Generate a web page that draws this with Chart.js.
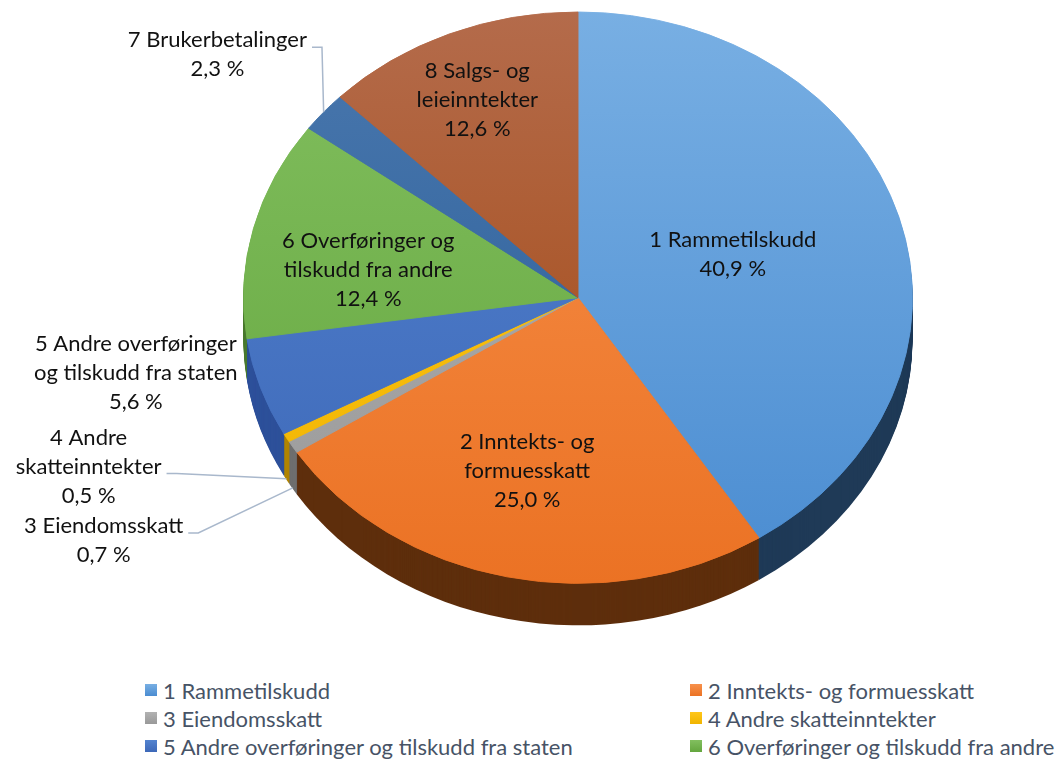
<!DOCTYPE html>
<html lang="no">
<head>
<meta charset="utf-8">
<title>Inntekter</title>
<script src="https://cdn.jsdelivr.net/npm/chart.js@4.4.1/dist/chart.umd.min.js"></script>
<style>
  html, body { margin: 0; padding: 0; background: #fff; overflow: hidden; }
  #wrap { position: relative; width: 1059px; height: 760px; }
  #pie { position: absolute; left: 0; top: 0; }
  #legend {
    position: absolute; left: 145px; top: 676px;
    display: grid; grid-template-columns: 545px 380px;
    font: 22px Lato, sans-serif; color: #475366;
  }
  .item { height: 28px; display: flex; align-items: center; white-space: nowrap; }
  .box { width: 12px; height: 12px; margin-right: 6px; flex: none; }
</style>
</head>
<body>
<div id="wrap">
  <canvas id="pie" width="1059" height="670"></canvas>
  <div id="legend"></div>
</div>
<script>
// data
const kategorier = [
  '1 Rammetilskudd',
  '2 Inntekts- og formuesskatt',
  '3 Eiendomsskatt',
  '4 Andre skatteinntekter',
  '5 Andre overføringer og tilskudd fra staten',
  '6 Overføringer og tilskudd fra andre',
  '7 Brukerbetalinger',
  '8 Salgs- og leieinntekter'
];
const andeler = [40.9, 25.0, 0.7, 0.5, 5.6, 12.4, 2.3, 12.6];

// hvordan etikettene brytes i figuren
const etikettLinjer = [
  ['1 Rammetilskudd'],
  ['2 Inntekts- og', 'formuesskatt'],
  ['3 Eiendomsskatt'],
  ['4 Andre', 'skatteinntekter'],
  ['5 Andre overføringer', 'og tilskudd fra staten'],
  ['6 Overføringer og', 'tilskudd fra andre'],
  ['7 Brukerbetalinger'],
  ['8 Salgs- og', 'leieinntekter']
];

// stil
const fargeLys = ['#78AFE3', '#F7914C', '#B2B2B2', '#FFC61A', '#5383CF', '#82BF5F', '#4A78AE', '#B46B4B'];
const fargeMork = ['#4A8CD1', '#EB7224', '#999999', '#F0B400', '#3D68B8', '#64A63E', '#275B96', '#A2460E'];
const fargeSide = ['#1F3A57', '#5E2E0C', '#6E6E6E', '#B08400', '#2D509A', '#4A7A30', '#1A3F66', '#6E3109'];
// etikettens midtpunkt, relativt til sentrum i enheter av radiene
const etikettPlass = [
  [0.463, -0.150], [-0.152, 0.608], [-1.418, 0.850], [-1.463, 0.591],
  [-1.322, 0.262], [-0.627, -0.098], [-1.078, -0.850], [-0.301, -0.692]
];
const ledeRad = [-1, -1, 0, 1, -1, -1, 0, -1]; // hvilken linje ledestreken går fra

const TILT = 0.854;
const DYBDE = 42;
const TOPP = 12;
const LINJE = 29;

const fmt = v => v.toFixed(1).replace('.', ',') + ' %';

function visSentrum(arc) {
  return TOPP + arc.outerRadius * TILT;
}

function settTransform(ctx, arc, dy) {
  ctx.translate(arc.x, visSentrum(arc) + dy);
  ctx.scale(1, TILT);
  ctx.translate(-arc.x, -arc.y);
}

function gradient(lys, mork) {
  return (c) => {
    const area = c.chart.chartArea;
    if (!area) return mork;
    const g = c.chart.ctx.createLinearGradient(0, area.top, 0, area.bottom);
    g.addColorStop(0, lys);
    g.addColorStop(1, mork);
    return g;
  };
}

function tegnEtiketter(chart) {
  const ctx = chart.ctx;
  const arcs = chart.getDatasetMeta(0).data;
  const rx = arcs[0].outerRadius, ry = rx * TILT;
  const cx = arcs[0].x, cy = visSentrum(arcs[0]);

  ctx.save();
  ctx.font = '22px Lato, sans-serif';
  ctx.textAlign = 'center';
  ctx.textBaseline = 'middle';
  arcs.forEach((arc, i) => {
    const linjer = [...etikettLinjer[i], fmt(andeler[i])];
    const lx = cx + etikettPlass[i][0] * rx;
    const ly = cy + etikettPlass[i][1] * ry;
    const y0 = ly - (linjer.length - 1) * LINJE / 2;

    if (ledeRad[i] >= 0) {
      const rad = ledeRad[i];
      const w = ctx.measureText(linjer[rad]).width;
      const sx = lx + w / 2 + 5, sy = y0 + rad * LINJE + 7;
      const mid = (arc.startAngle + arc.endAngle) / 2;
      const ex = cx + rx * Math.cos(mid);
      let ey = cy + ry * Math.sin(mid);
      if (Math.sin(mid) > 0) ey += DYBDE - 1;
      ctx.strokeStyle = '#A9B8CC';
      ctx.lineWidth = 1.5;
      ctx.beginPath();
      ctx.moveTo(sx, sy);
      ctx.lineTo(sx + 10, sy);
      ctx.lineTo(ex, ey);
      ctx.stroke();
    }

    ctx.fillStyle = '#111';
    linjer.forEach((t, j) => ctx.fillText(t, lx, y0 + j * LINJE));
  });
  ctx.restore();
}

const pie3d = {
  id: 'pie3d',
  beforeDatasetsDraw(chart) {
    const ctx = chart.ctx;
    const arcs = chart.getDatasetMeta(0).data;
    // sideveggen: skivene stablet nedover
    for (let d = DYBDE; d >= 1; d--) {
      ctx.save();
      settTransform(ctx, arcs[0], d);
      arcs.forEach((arc, i) => {
        ctx.beginPath();
        ctx.moveTo(arc.x, arc.y);
        ctx.arc(arc.x, arc.y, arc.outerRadius, arc.startAngle, arc.endAngle);
        ctx.closePath();
        ctx.fillStyle = fargeSide[i];
        ctx.fill();
      });
      ctx.restore();
    }
    ctx.save();
    settTransform(ctx, arcs[0], 0);
  },
  afterDatasetsDraw(chart) {
    chart.ctx.restore();
    tegnEtiketter(chart);
  }
};

const bg = fargeLys.map((c, i) => gradient(c, fargeMork[i]));

const chart = new Chart(document.getElementById('pie'), {
  type: 'pie',
  data: {
    labels: kategorier,
    datasets: [{
      data: andeler,
      backgroundColor: c => bg[c.dataIndex](c),
      borderColor: c => bg[c.dataIndex](c),
      borderWidth: 1,
      clip: false
    }]
  },
  options: {
    responsive: false,
    animation: false,
    devicePixelRatio: 1,
    layout: { padding: { left: 243, right: 146, top: 0, bottom: 0 } },
    plugins: {
      legend: { display: false },
      tooltip: { enabled: false }
    },
    events: []
  },
  plugins: [pie3d]
});

// legende under figuren
const legend = document.getElementById('legend');
kategorier.forEach((navn, i) => {
  const item = document.createElement('div');
  item.className = 'item';
  const box = document.createElement('span');
  box.className = 'box';
  box.style.background = `linear-gradient(${fargeLys[i]}, ${fargeMork[i]})`;
  const txt = document.createElement('span');
  txt.textContent = navn;
  item.appendChild(box);
  item.appendChild(txt);
  legend.appendChild(item);
});
</script>
</body>
</html>
